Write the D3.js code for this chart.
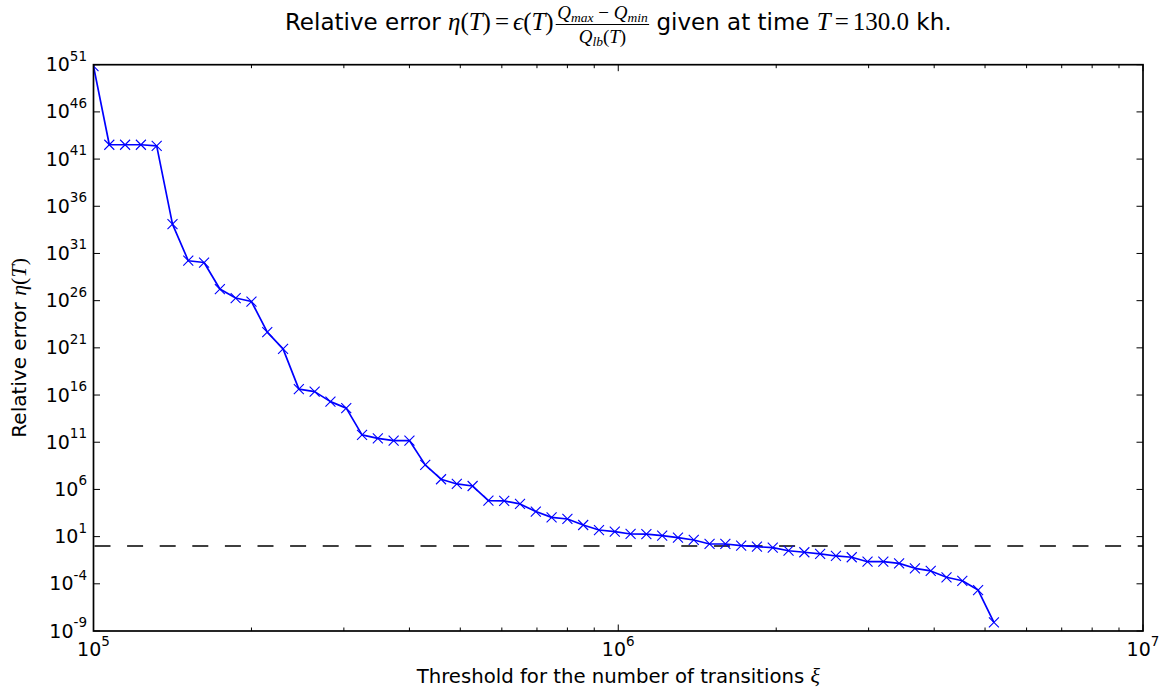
<!DOCTYPE html>
<html><head><meta charset="utf-8">
<script src="https://cdn.jsdelivr.net/npm/d3@7/dist/d3.min.js"></script>
<style>body{margin:0;background:#fff}svg{display:block}text{white-space:pre}</style>
</head><body>
<script>
// ---- data ----
const thresholds = [100000, 107177, 114870, 123114, 131951, 141421, 151572, 162450, 174110, 186607,
  200000, 214355, 229740, 246229, 263902, 282843, 303143, 324901, 348220, 373213,
  400000, 428709, 459479, 492458, 527803, 565685, 606287, 649802, 696440, 746426,
  800000, 857419, 918959, 984916, 1055610, 1131371, 1212573, 1299604, 1392880, 1492853,
  1600000, 1714838, 1837917, 1969831, 2111213, 2262742, 2425147, 2599208, 2785761, 2985706,
  3200000, 3429675, 3675834, 3939662, 4222425, 4525483, 4850293, 5198418];
const relErrors = [7.2e50, 3.3e42, 3.3e42, 3.3e42, 2.5e42, 1.3e34, 1.7e30, 1.1e30, 1.7e27, 1.9e26,
  8.1e25, 4.6e22, 7.9e20, 4.2e16, 2.3e16, 2.0e15, 4.1e14, 6.0e11, 2.6e11, 1.5e11,
  1.5e11, 4.0e8, 1.2e7, 3.8e6, 2.3e6, 6.5e4, 6.0e4, 2.9e4, 4.5e3, 1.1e3,
  7.4e2, 1.7e2, 50, 34, 19, 18, 12.6, 7.8, 4.4, 1.66,
  1.66, 1.10, 0.85, 0.68, 0.32, 0.22, 0.145, 0.089, 0.065, 0.022,
  0.022, 0.0148, 0.0044, 0.0023, 4.9e-4, 2.1e-4, 2.2e-5, 8.3e-9];
const referenceLevel = 1;
const xDomain = [1e5, 1e7];
const yDomain = [1e-9, 1e51];
const xMajorExps = [5, 6, 7];
const yMajorExps = [-9, -4, 1, 6, 11, 16, 21, 26, 31, 36, 41, 46, 51];

// ---- layout ----
const W = 1164, H = 693;
const m = {left: 93.5, right: 1143, top: 64.7, bottom: 631};
const svg = d3.select("body").append("svg").attr("width", W).attr("height", H);
const x = d3.scaleLog().domain(xDomain).range([m.left, m.right]);
const y = d3.scaleLog().domain(yDomain).range([m.bottom, m.top]);
const SANS = "'DejaVu Sans', sans-serif";
const SERIF = "'Liberation Serif', 'DejaVu Serif', serif";

svg.append("defs").append("clipPath").attr("id", "clip")
  .append("rect").attr("x", m.left).attr("y", m.top)
  .attr("width", m.right - m.left).attr("height", m.bottom - m.top);

// ticks (inside, all four sides)
const minorX = [];
for (let e = 5; e < 7; e++) for (let k = 2; k <= 9; k++) minorX.push(k * Math.pow(10, e));
const tg = svg.append("g").attr("stroke", "#000").attr("stroke-width", 1);
minorX.forEach(v => {
  const px = x(v);
  tg.append("line").attr("x1", px).attr("x2", px).attr("y1", m.bottom).attr("y2", m.bottom - 3.5);
  tg.append("line").attr("x1", px).attr("x2", px).attr("y1", m.top).attr("y2", m.top + 3.5);
});
xMajorExps.forEach(e => {
  const px = x(Math.pow(10, e));
  tg.append("line").attr("x1", px).attr("x2", px).attr("y1", m.bottom).attr("y2", m.bottom - 6.5);
  tg.append("line").attr("x1", px).attr("x2", px).attr("y1", m.top).attr("y2", m.top + 6.5);
});
yMajorExps.forEach(e => {
  const py = y(Math.pow(10, e));
  tg.append("line").attr("x1", m.left).attr("x2", m.left + 6.5).attr("y1", py).attr("y2", py);
  tg.append("line").attr("x1", m.right).attr("x2", m.right - 6.5).attr("y1", py).attr("y2", py);
});

// tick labels
const lg = svg.append("g");
yMajorExps.forEach(e => {
  const t = lg.append("text").attr("x", m.left - 6.5).attr("y", y(Math.pow(10, e)) + 6.5).attr("text-anchor", "end")
    .attr("font-family", SANS).attr("font-size", 19).attr("fill", "#000");
  t.append("tspan").text("10");
  t.append("tspan").attr("dy", -10.5).attr("font-size", 13.5).text(e);
});
xMajorExps.forEach(e => {
  const t = lg.append("text").attr("x", x(Math.pow(10, e))).attr("y", m.bottom + 25)
    .attr("text-anchor", "middle").attr("font-family", SANS).attr("font-size", 19);
  t.append("tspan").text("10");
  t.append("tspan").attr("dy", -10.5).attr("font-size", 13.5).text(e);
});

// data
const plot = svg.append("g").attr("clip-path", "url(#clip)");
plot.append("line").attr("x1", m.left + 1).attr("x2", m.right).attr("y1", y(referenceLevel)).attr("y2", y(referenceLevel))
  .attr("stroke", "#000").attr("stroke-width", 1.6).attr("stroke-dasharray", "16,16.6");
const pts = thresholds.map((t, i) => [t, relErrors[i]]);
plot.append("path").datum(pts)
  .attr("d", d3.line().x(d => x(d[0])).y(d => y(d[1])))
  .attr("fill", "none").attr("stroke", "#0000ff").attr("stroke-width", 1.7).attr("stroke-linejoin", "round");
const ms = 5;
plot.selectAll("path.mk").data(pts).join("path").attr("class", "mk")
  .attr("d", d => {
    const cx = x(d[0]), cy = y(d[1]);
    return `M${cx - ms},${cy - ms}L${cx + ms},${cy + ms}M${cx - ms},${cy + ms}L${cx + ms},${cy - ms}`;
  })
  .attr("stroke", "#0000ff").attr("stroke-width", 1.1).attr("fill", "none");

// frame
svg.append("rect").attr("x", m.left).attr("y", m.top).attr("width", m.right - m.left).attr("height", m.bottom - m.top)
  .attr("fill", "none").attr("stroke", "#000").attr("stroke-width", 1.7);

// axis labels
const xl = svg.append("text").attr("x", (m.left + m.right) / 2).attr("y", 683).attr("text-anchor", "middle")
  .attr("font-family", SANS).attr("font-size", 19.7);
xl.append("tspan").text("Threshold for the number of transitions ");
xl.append("tspan").attr("font-family", SERIF).attr("font-style", "italic").attr("font-size", 22).text("ξ");

const yl = svg.append("text").attr("transform", `translate(26,${(m.top + m.bottom) / 2}) rotate(-90)`)
  .attr("text-anchor", "middle").attr("font-family", SANS).attr("font-size", 20);
yl.append("tspan").text("Relative error ");
yl.append("tspan").attr("font-family", SERIF).attr("font-style", "italic").attr("font-size", 22).text("η");
yl.append("tspan").attr("font-family", SERIF).attr("font-size", 22).text("(");
yl.append("tspan").attr("font-family", SERIF).attr("font-style", "italic").attr("font-size", 22).text("T");
yl.append("tspan").attr("font-family", SERIF).attr("font-size", 22).text(")");

// title
const title = svg.append("g");
let cx = 0;
const base = 30;
const TS = 23, MS = 25;
function piece(str, opt) {
  const t = title.append("text").attr("x", cx).attr("y", base + (opt.dy || 0))
    .attr("font-family", opt.serif ? SERIF : SANS).attr("font-size", opt.size || TS)
    .attr("font-style", opt.it ? "italic" : "normal").text(str);
  const w = t.node().getComputedTextLength();
  cx += w + (opt.pad || 0);
  return t;
}
piece("Relative error ", {});
piece("η", {serif: 1, it: 1, size: MS});
piece("(", {serif: 1, size: MS});
piece("T", {serif: 1, it: 1, size: MS});
piece(")", {serif: 1, size: MS, pad: 4});
piece("=", {serif: 1, size: MS, pad: 4});
piece("ϵ", {serif: 1, it: 1, size: MS});
piece("(", {serif: 1, size: MS});
piece("T", {serif: 1, it: 1, size: MS});
piece(")", {serif: 1, size: MS, pad: 2});
// fraction
const fracStart = cx;
const fr = title.append("g");
function mathText(g, xx, yy, parts) {
  const t = g.append("text").attr("x", xx).attr("y", yy).attr("font-family", SERIF);
  parts.forEach(p => {
    const s = t.append("tspan").attr("font-size", p.size).attr("font-style", p.it ? "italic" : "normal").text(p.s);
    if (p.dy) s.attr("dy", p.dy);
  });
  return t;
}
const num = mathText(fr, 0, 19, [
  {s: "Q", it: 1, size: 19}, {s: "max", it: 1, size: 13.5, dy: 3}, {s: " − ", size: 19, dy: -3},
  {s: "Q", it: 1, size: 19}, {s: "min", it: 1, size: 13.5, dy: 3}]);
const den = mathText(fr, 0, 43, [
  {s: "Q", it: 1, size: 19}, {s: "lb", it: 1, size: 13.5, dy: 3}, {s: "(", size: 19, dy: -3},
  {s: "T", it: 1, size: 19}, {s: ")", size: 19}]);
const nw = num.node().getComputedTextLength(), dw = den.node().getComputedTextLength();
const fw = Math.max(nw, dw) + 3;
num.attr("x", (fw - nw) / 2); den.attr("x", (fw - dw) / 2);
fr.append("line").attr("x1", 0).attr("x2", fw).attr("y1", 24.5).attr("y2", 24.5).attr("stroke", "#000").attr("stroke-width", 1.2);
fr.attr("transform", `translate(${fracStart},0)`);
cx += fw;
piece(" given at time ", {});
piece("T", {serif: 1, it: 1, size: MS, pad: 4});
piece("=", {serif: 1, size: MS, pad: 4});
piece("130.0", {serif: 1, size: MS});
piece(" kh.", {});
title.attr("transform", `translate(${(m.left + m.right) / 2 - cx / 2},0)`);
</script>
</body></html>
